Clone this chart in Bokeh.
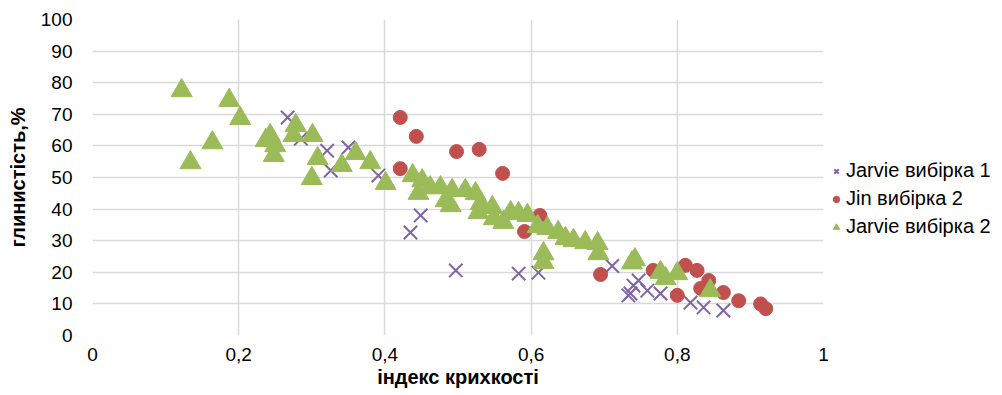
from bokeh.plotting import figure
from bokeh.models import Legend, LegendItem, FixedTicker, CustomJSTickFormatter, Range1d
from bokeh.embed import file_html
from bokeh.resources import INLINE

# --- data ---
jarvie1_x = [0.267, 0.285, 0.321, 0.326, 0.350, 0.391, 0.435, 0.449, 0.497, 0.583,
             0.610, 0.711, 0.733, 0.736, 0.740, 0.747, 0.759, 0.777, 0.818, 0.836, 0.863]
jarvie1_y = [69, 62.3, 58.5, 52.2, 59.5, 50.6, 32.6, 38, 20.6, 19.6,
             19.9, 22, 12.7, 13.3, 15.8, 17.4, 14.2, 13.3, 10.4, 8.9, 7.9]

jin_x = [0.421, 0.443, 0.421, 0.498, 0.529, 0.561, 0.612, 0.591, 0.695, 0.767,
         0.800, 0.811, 0.827, 0.832, 0.843, 0.863, 0.884, 0.914, 0.921]
jin_y = [69, 63, 52.8, 58.2, 58.9, 51.3, 38, 32.9, 19.3, 20.6,
         12.7, 22.2, 20.6, 14.9, 17.4, 13.6, 11, 10, 8.5]

jarvie2_x = [0.122, 0.134, 0.164, 0.187, 0.202, 0.237, 0.243, 0.250, 0.248, 0.278,
             0.275, 0.301, 0.308, 0.300, 0.341, 0.360, 0.380, 0.401, 0.438, 0.451,
             0.446, 0.462, 0.476, 0.492, 0.483, 0.490, 0.510, 0.524, 0.531, 0.528,
             0.547, 0.549, 0.562, 0.572, 0.583, 0.595, 0.609, 0.622, 0.637, 0.647,
             0.658, 0.674, 0.691, 0.692, 0.617, 0.617, 0.738, 0.742, 0.777, 0.784,
             0.800, 0.845]
jarvie2_y = [77.5, 54.7, 61, 74.4, 68.7, 61.7, 63.3, 60.1, 57, 66.5,
             63.3, 63.3, 56, 49.7, 53.8, 57.6, 54.7, 48.1, 50.6, 49,
             45, 46.8, 46.8, 45.9, 42.7, 41.1, 45.9, 44.9, 41.8, 38.9,
             40.5, 37, 35.8, 38.9, 38.6, 38, 34.5, 33.9, 32.6, 30.7,
             30.1, 29.4, 29.1, 25.9, 25.9, 23.1, 23, 24, 20, 18,
             19.6, 14.2]

series_names = ["Jarvie вибірка 1", "Jin вибірка 2", "Jarvie вибірка 2"]
x_ticks = [0, 0.2, 0.4, 0.6, 0.8, 1]
y_ticks = [0, 10, 20, 30, 40, 50, 60, 70, 80, 90, 100]
x_title = "індекс крихкості"
y_title = "глинистість,%"

FONT = "Liberation Sans"

p = figure(frame_width=731, frame_height=316, output_backend="svg", toolbar_location=None,
           x_range=Range1d(0, 1), y_range=Range1d(0, 100),
           min_border_left=92, min_border_right=10, min_border_top=19, min_border_bottom=60)
p.outline_line_color = None
p.background_fill_color = "white"
p.border_fill_color = "white"

for ax in (p.xaxis[0], p.yaxis[0]):
    ax.axis_line_color = None
    ax.major_tick_line_color = None
    ax.minor_tick_line_color = None
    ax.major_tick_out = 0
    ax.major_tick_in = 0
    ax.major_label_text_font = FONT
    ax.major_label_text_font_size = "19px"
    ax.major_label_text_color = "black"
    ax.axis_label_text_font = FONT
    ax.axis_label_text_font_size = "20px"
    ax.axis_label_text_font_style = "bold"
    ax.axis_label_text_color = "black"

p.xaxis.ticker = FixedTicker(ticks=x_ticks)
p.yaxis.ticker = FixedTicker(ticks=y_ticks)
p.xaxis.formatter = CustomJSTickFormatter(code="return tick.toString().replace('.', ',');")
p.xaxis.axis_label = x_title
p.yaxis.axis_label = y_title
p.xaxis.major_label_standoff = 12
p.xaxis.axis_label_standoff = 2
p.yaxis.major_label_standoff = 20
p.yaxis.axis_label_standoff = 9

p.xgrid.ticker = FixedTicker(ticks=x_ticks)
p.ygrid.ticker = FixedTicker(ticks=y_ticks)
p.xgrid.grid_line_color = "#d9d9d9"
p.ygrid.grid_line_color = "#d9d9d9"
p.xgrid.grid_line_width = 1.5
p.ygrid.grid_line_width = 1.5

r1 = p.scatter(jarvie1_x, jarvie1_y, marker="x", size=19, line_color="#8064a2", line_width=2)
r2 = p.scatter(jin_x, jin_y, marker="circle", size=14, fill_color="#c0504d", line_color="#c0504d")
r3 = p.scatter(jarvie2_x, jarvie2_y, marker="triangle", size=21, fill_color="#9bbb59", line_color="#9bbb59")

legend = Legend(items=[LegendItem(label=series_names[0], renderers=[r1]),
                       LegendItem(label=series_names[1], renderers=[r2]),
                       LegendItem(label=series_names[2], renderers=[r3])],
                location=(5, 97))
legend.background_fill_alpha = 0
legend.border_line_color = None
legend.label_text_font = FONT
legend.label_text_font_size = "20px"
legend.label_text_color = "black"
legend.glyph_width = 16
legend.glyph_height = 22
legend.label_height = 22
legend.spacing = 5
legend.label_standoff = 2
legend.padding = 0
legend.margin = 0
p.add_layout(legend, "right")

open("out.html", "w").write(file_html(p, INLINE))
